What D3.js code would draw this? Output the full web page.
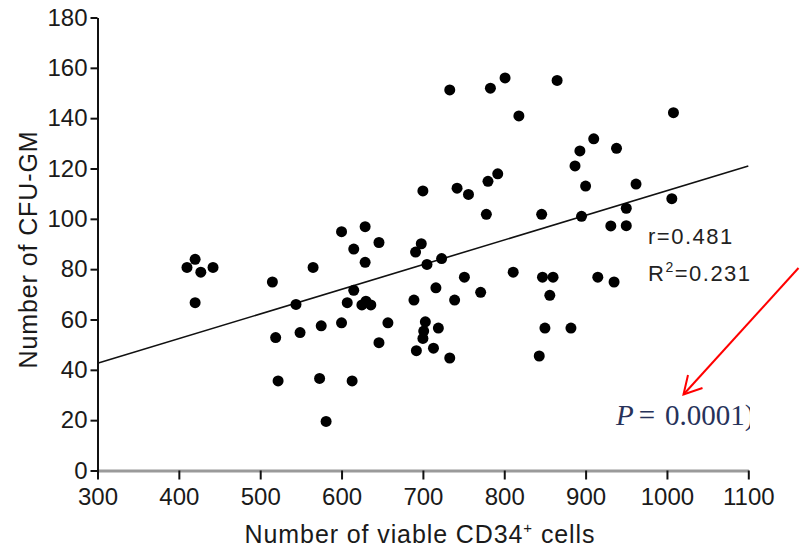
<!DOCTYPE html>
<html>
<head>
<meta charset="utf-8">
<script src="https://cdn.jsdelivr.net/npm/d3@7"></script>
<style>
  body { margin: 0; background: #fff; }
  svg { display: block; font-family: "Liberation Sans", Arial, sans-serif; }
</style>
</head>
<body>
<svg id="chart" width="802" height="549"></svg>
<script>
// ---- data ----
const cd34 = [410,420,427,442,420,515,519,522,544,549,565,575,573,581,600,607,613,615,615,629,
  625,630,636,646,646,657,689,691,692,600,629,733,783,801,865,818,1008,910,893,938,
  887,700,742,756,780,792,900,962,1006,778,846,895,950,931,950,698,705,723,751,716,
  739,771,811,847,860,856,915,935,703,701,700,719,713,733,850,882,843];
const cfu = [80.7,83.9,78.8,80.7,66.7,74.9,52.8,35.6,66.0,54.8,80.7,57.5,36.6,19.5,58.7,66.7,35.6,88.0,71.6,82.7,
  65.8,67.3,65.8,90.6,50.8,58.7,67.7,86.8,47.6,94.9,96.9,151.2,151.9,156.0,155.0,140.9,142.2,131.8,127.0,128.0,
  121.0,111.1,112.2,109.7,114.9,117.9,113.0,113.8,108.0,101.8,101.8,101.0,104.2,97.2,97.3,90.1,81.9,84.2,76.8,72.6,
  67.7,70.8,78.8,76.8,76.8,69.6,76.8,74.9,59.1,55.4,52.5,56.6,48.6,44.7,56.6,56.6,45.5];
const fitX = [300, 1100];
const fitY = [42.6, 121.0];
const xTicks = [300,400,500,600,700,800,900,1000,1100];
const yTicks = [0,20,40,60,80,100,120,140,160,180];
const statR = "r=0.481";
const statR2 = "0.231";
const pValue = "0.0001)";
const xTitle = "Number of viable CD34";
const yTitle = "Number of CFU-GM";

// ---- scales ----
const svg = d3.select("#chart");
const x = d3.scaleLinear().domain([300, 1100]).range([97.5, 748.3]);
const y = d3.scaleLinear().domain([0, 180]).range([470.5, 17.5]);

// x axis
const gx = svg.append("g").attr("transform", `translate(0,${y(0)})`)
  .call(d3.axisBottom(x).tickValues(xTicks).tickFormat(d3.format("d")).tickSize(9).tickSizeOuter(0).tickPadding(8));
gx.select(".domain").attr("stroke", "#9a9a9a").attr("stroke-width", 3);
gx.selectAll(".tick line").attr("stroke", "#111").attr("stroke-width", 2);
gx.selectAll(".tick text").style("font-size", "24px").attr("fill", "#1a1a1a")
  .style("font-family", "Liberation Sans, Arial, sans-serif");

// y axis
const gy = svg.append("g").attr("transform", `translate(${x(300)},0)`)
  .call(d3.axisLeft(y).tickValues(yTicks).tickSize(7).tickSizeOuter(0).tickPadding(3));
gy.select(".domain").attr("stroke", "#111").attr("stroke-width", 2);
gy.selectAll(".tick line").attr("stroke", "#111").attr("stroke-width", 2);
gy.selectAll(".tick text").style("font-size", "24px").attr("fill", "#1a1a1a")
  .style("font-family", "Liberation Sans, Arial, sans-serif");

// regression line
svg.append("line")
  .attr("x1", x(fitX[0])).attr("y1", y(fitY[0]))
  .attr("x2", x(fitX[1])).attr("y2", y(fitY[1]))
  .attr("stroke", "#111").attr("stroke-width", 1.6);

// points
svg.append("g").selectAll("circle")
  .data(cd34.map((v, i) => [v, cfu[i]]))
  .join("circle")
  .attr("cx", d => x(d[0])).attr("cy", d => y(d[1]))
  .attr("r", 5.5).attr("fill", "#000");

// axis titles
const xt = svg.append("text").attr("x", 420).attr("y", 543)
  .attr("text-anchor", "middle").style("font-size", "25px").attr("fill", "#1a1a1a")
  .attr("letter-spacing", 0.9);
xt.append("tspan").text(xTitle);
xt.append("tspan").style("font-size", "15px").attr("dy", -10).text("+");
xt.append("tspan").attr("dy", 10).text(" cells");

svg.append("text")
  .attr("transform", "translate(37,249.5) rotate(-90)")
  .attr("text-anchor", "middle").style("font-size", "25px").attr("fill", "#1a1a1a")
  .attr("letter-spacing", 0.9)
  .text(yTitle);

// stats
svg.append("text").attr("x", 648).attr("y", 243.5)
  .style("font-size", "22px").attr("letter-spacing", 1.5).attr("fill", "#222").text(statR);
const r2 = svg.append("text").attr("x", 648).attr("y", 280.5)
  .style("font-size", "22px").attr("letter-spacing", 1.5).attr("fill", "#222");
r2.append("tspan").text("R");
r2.append("tspan").style("font-size", "14px").attr("dy", -9).text("2");
r2.append("tspan").attr("dy", 9).text("=" + statR2);

// red arrow
const ax1 = 798.5, ay1 = 268, ax2 = 683.5, ay2 = 394.5;
svg.append("line").attr("x1", ax1).attr("y1", ay1).attr("x2", ax2).attr("y2", ay2)
  .attr("stroke", "#f00").attr("stroke-width", 2);
svg.append("polyline")
  .attr("points", `688,375 ${ax2},${ay2} 702.5,388`)
  .attr("fill", "none").attr("stroke", "#f00").attr("stroke-width", 2);

// P value
svg.append("clipPath").attr("id", "pclip").append("rect")
  .attr("x", 600).attr("y", 395).attr("width", 150).attr("height", 45);
const pt = svg.append("text").attr("x", 616).attr("y", 425)
  .attr("clip-path", "url(#pclip)")
  .style("font-family", "'Liberation Serif', 'Times New Roman', serif")
  .style("font-size", "29px").attr("fill", "#27325a");
pt.append("tspan").style("font-style", "italic").text("P");
pt.append("tspan").attr("dx", 5).text("=");
pt.append("tspan").attr("dx", 10).text(pValue);
</script>
</body>
</html>
